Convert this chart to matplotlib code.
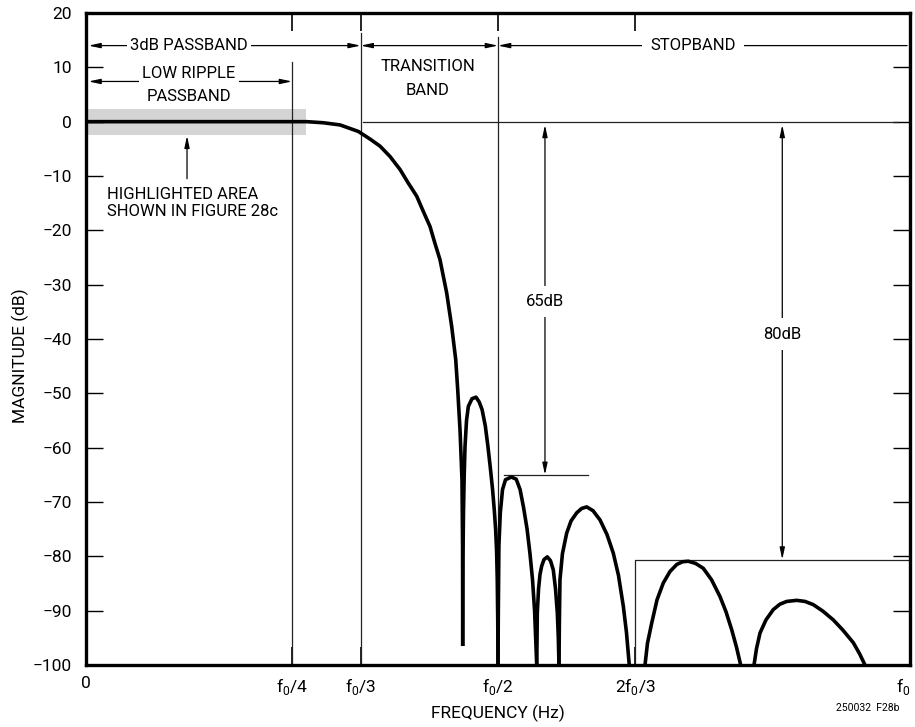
import matplotlib.pyplot as plt

plt.rcParams['font.family'] = ['Roboto', 'DejaVu Sans']

# frequency as a fraction of f0, magnitude in dB
main_f = [0, 0.2476, 0.2678, 0.2880, 0.3083, 0.3305, 0.3447, 0.3568, 0.3689, 0.3811,
          0.3911, 0.4013, 0.4093, 0.4175, 0.4235, 0.4296, 0.4377, 0.4438, 0.4487,
          0.4511, 0.4539, 0.4563, 0.4570, 0.4572]
main_db = [0, 0, 0, -0.2, -0.6, -1.8, -3.2, -4.5, -6.4, -8.8,
           -11.3, -13.7, -16.5, -19.3, -22.4, -25.4, -31.5, -37.7, -43.8,
           -49.3, -56.7, -65.9, -78, -96.5]

lobe_f = [
    [0.4572, 0.4573, 0.4575, 0.4581, 0.4590, 0.4600, 0.4618, 0.4640, 0.4684, 0.4733, 0.4772,
     0.4807, 0.4846, 0.4878, 0.4909, 0.4934, 0.4955, 0.4971, 0.4983, 0.4991, 0.4997, 0.5000],
    [0.5000, 0.5004, 0.5011, 0.5028, 0.5055, 0.5091, 0.5161, 0.5221, 0.5268, 0.5310,
     0.5353, 0.5388, 0.5419, 0.5444, 0.5470],
    [0.5470, 0.5474, 0.5477, 0.5492, 0.5510, 0.5530, 0.5558, 0.5598, 0.5637, 0.5671,
     0.5698, 0.5720, 0.5732, 0.5740],
    [0.5740, 0.5745, 0.5752, 0.5782, 0.5834, 0.5886, 0.5955, 0.6014, 0.6076, 0.6153,
     0.6238, 0.6323, 0.6399, 0.6462, 0.6521, 0.6559, 0.6593],
    [0.6784, 0.6814, 0.6865, 0.6930, 0.7006, 0.7087, 0.7169, 0.7239, 0.7309, 0.7397,
     0.7491, 0.7591, 0.7694, 0.7767, 0.7836, 0.7894, 0.7945],
    [0.8107, 0.8137, 0.8180, 0.8252, 0.8341, 0.8422, 0.8504, 0.8625, 0.8726, 0.8827,
     0.8944, 0.9069, 0.9187, 0.9312, 0.9387, 0.9454],
]
lobe_db = [
    [-96.5, -90, -80, -72, -65, -59.7, -55, -52.4, -51.0, -50.7, -51.6,
     -53, -56, -59.8, -64, -67.7, -71.5, -75, -79, -84.3, -92, -100],
    [-100, -90, -78, -72, -67.7, -65.9, -65.4, -65.8, -67.7, -71,
     -75, -79.5, -84.3, -90, -100],
    [-100, -95, -90.4, -86, -83.3, -81.8, -80.6, -80.1, -80.8, -82.5,
     -86, -90.4, -95, -100],
    [-100, -92, -84.3, -79.5, -75.7, -73.5, -72, -71.2, -70.9, -71.6,
     -73.3, -76, -79.4, -83.5, -89.2, -94, -100],
    [-100, -96, -92.3, -88, -84.9, -82.8, -81.5, -81.0, -80.9, -81.3,
     -82.2, -84.3, -87.4, -90.2, -93.5, -96.7, -100],
    [-100, -97, -94.1, -91.7, -89.8, -88.8, -88.3, -88.1, -88.3, -88.9,
     -90.1, -91.7, -93.6, -95.9, -97.9, -100],
]

xticks = [0, 1/4, 1/3, 1/2, 2/3, 1]
xlabels = ['0', r'f$_\mathregular{0}$/4', r'f$_\mathregular{0}$/3', r'f$_\mathregular{0}$/2',
           r'2f$_\mathregular{0}$/3', r'f$_\mathregular{0}$']
yticks = list(range(-100, 21, 10))

fig = plt.figure(figsize=(9.15, 7.27), dpi=100)
ax = fig.add_axes([86/915, 1-665/727, 824/915, 652/727])
ax.set_xlim(0, 1)
ax.set_ylim(-100, 20)

# highlighted area
ax.fill_between([0, 0.267], -2.4, 2.4, color='#d4d4d4', lw=0, zorder=1)

lc = '#222222'
# band edge lines
ax.plot([1/4, 1/4], [-100, 11], color=lc, lw=0.9)
ax.plot([1/3, 1/3], [-100, 16.4], color=lc, lw=0.9)
ax.plot([1/2, 1/2], [-100, 15.6], color=lc, lw=0.9)
ax.plot([0.336, 0.984], [0, 0], color=lc, lw=0.9)
ax.plot([0.507, 0.609], [-65, -65], color=lc, lw=0.9)
ax.plot([2/3, 2/3, 1], [-100, -80.6, -80.6], color=lc, lw=0.9)

ax.plot(main_f, main_db, color='k', lw=2.6, solid_joinstyle='round', solid_capstyle='butt', zorder=4)
for f, db in zip(lobe_f, lobe_db):
    ax.plot(f, db, color='k', lw=2.6, solid_joinstyle='round', solid_capstyle='butt', zorder=4)

ah = dict(color='k', lw=0.9, shrinkA=0, shrinkB=0)
both = '<|-|>,head_length=0.7,head_width=0.15'
one = '-|>,head_length=0.7,head_width=0.15'

def harrow(x0, x1, y, style=both):
    ax.annotate('', xy=(x1, y), xytext=(x0, y), arrowprops=dict(arrowstyle=style, **ah))

harrow(0.003, 1/3, 14)
harrow(0.003, 1/4, 7.4)
harrow(1/3, 1/2, 14)
ax.annotate('', xy=(1/2, 14), xytext=(0.9965, 14), arrowprops=dict(arrowstyle=one, **ah))

box = dict(facecolor='white', edgecolor='none', pad=2.5)
fs = 12
ax.text(0.125, 14, '3dB PASSBAND', ha='center', va='center', fontsize=fs, bbox=box, zorder=5)
ax.text(0.125, 8.8, 'LOW RIPPLE', ha='center', va='center', fontsize=fs, bbox=box, zorder=5)
ax.text(0.125, 4.7, 'PASSBAND', ha='center', va='center', fontsize=fs)
ax.text(0.415, 10.1, 'TRANSITION', ha='center', va='center', fontsize=fs)
ax.text(0.415, 5.8, 'BAND', ha='center', va='center', fontsize=fs)
ax.text(0.737, 14, 'STOPBAND', ha='center', va='center', fontsize=fs,
        bbox=dict(facecolor='white', edgecolor='none', pad=6), zorder=5)

# pointer to the highlighted area
ax.annotate('', xy=(0.1226, -2.6), xytext=(0.1226, -10.5), arrowprops=dict(arrowstyle=one, **ah))
ax.text(0.026, -12.0, 'HIGHLIGHTED AREA\nSHOWN IN FIGURE 28c', ha='left', va='top',
        fontsize=fs, linespacing=1.15)

# attenuation arrows
ax.annotate('', xy=(0.557, -0.6), xytext=(0.557, -65), arrowprops=dict(arrowstyle=both, **ah))
ax.text(0.557, -33.1, '65dB', ha='center', va='center', fontsize=fs,
        bbox=dict(facecolor='white', edgecolor='none', pad=6), zorder=5)
ax.annotate('', xy=(0.845, -0.6), xytext=(0.845, -80.6), arrowprops=dict(arrowstyle=both, **ah))
ax.text(0.845, -39.1, '80dB', ha='center', va='center', fontsize=fs,
        bbox=dict(facecolor='white', edgecolor='none', pad=6), zorder=5)

ax.set_xticks(xticks)
ax.set_xticklabels(xlabels, fontsize=12.5)
ax.get_xticklabels()[-1].set_horizontalalignment('right')
ax.set_yticks(yticks)
ax.set_yticklabels([str(v).replace('-', '\u2212') for v in yticks], fontsize=12.5)
ax.tick_params(axis='y', direction='in', length=12, width=1, right=True, pad=10)
ax.tick_params(axis='x', direction='in', length=13, width=1.2, top=True, pad=8)
for s in ax.spines.values():
    s.set_linewidth(2.4)

fig.text(498/915, 1-713/727, 'FREQUENCY (Hz)', ha='center', va='center', fontsize=12.5)
fig.text(20/915, 1-356/727, 'MAGNITUDE (dB)', ha='center', va='center', rotation=90, fontsize=12.5)
fig.text(868/915, 1-708/727, '250032  F28b', ha='center', va='center', fontsize=7.5)

fig.savefig('out.png', dpi=100)
